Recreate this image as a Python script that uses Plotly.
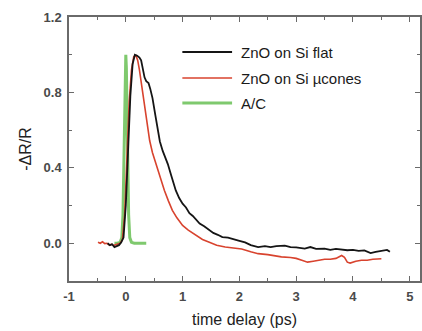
import plotly.graph_objects as go

# ---- data ----
flat_x = [-0.32, -0.28, -0.24, -0.20, -0.16, -0.12, -0.08, -0.04, 0.0, 0.04, 0.08, 0.12, 0.16, 0.20,
          0.24, 0.27, 0.30, 0.33, 0.36, 0.40, 0.43, 0.47, 0.52, 0.56, 0.60, 0.65, 0.70, 0.74, 0.80,
          0.84, 0.88, 0.94, 1.00, 1.06, 1.12, 1.18, 1.23, 1.30, 1.38, 1.46, 1.54, 1.62, 1.70, 1.80,
          1.90, 2.00, 2.10, 2.20, 2.33, 2.45, 2.55, 2.65, 2.80, 2.90, 3.00, 3.15, 3.25, 3.35, 3.50,
          3.60, 3.70, 3.80, 3.90, 4.00, 4.10, 4.20, 4.31, 4.40, 4.50, 4.60, 4.65]
flat_y = [0.0, -0.01, -0.005, -0.02, -0.015, -0.01, 0.005, 0.03, 0.2, 0.5, 0.78, 0.95, 1.0, 0.995,
          0.985, 0.97, 0.93, 0.88, 0.86, 0.85, 0.82, 0.77, 0.68, 0.60, 0.54, 0.49, 0.45, 0.42, 0.36,
          0.32, 0.28, 0.24, 0.21, 0.19, 0.16, 0.145, 0.13, 0.105, 0.09, 0.07, 0.055, 0.045, 0.033, 0.03,
          0.02, 0.013, 0.005, -0.01, -0.02, -0.015, -0.02, -0.015, -0.012, -0.02, -0.022, -0.028, -0.02, -0.03, -0.028,
          -0.035, -0.03, -0.035, -0.037, -0.035, -0.04, -0.038, -0.052, -0.045, -0.04, -0.035, -0.045]

cones_x = [-0.49, -0.45, -0.41, -0.37, -0.33, -0.29, -0.25, -0.22, -0.18, -0.14, -0.10, -0.06, -0.02,
           0.02, 0.06, 0.10, 0.14, 0.18, 0.21, 0.24, 0.27, 0.30, 0.33, 0.37, 0.42, 0.47, 0.53, 0.58,
           0.63, 0.68, 0.75, 0.82, 0.90, 1.00, 1.10, 1.23, 1.35, 1.46, 1.60, 1.75, 1.90, 2.04, 2.20,
           2.33, 2.50, 2.60, 2.74, 2.90, 3.00, 3.10, 3.20, 3.30, 3.40, 3.50, 3.60, 3.70, 3.80, 3.85,
           3.90, 3.95, 4.05, 4.15, 4.25, 4.35, 4.50]
cones_y = [0.005, 0.0, 0.008, -0.002, 0.0, -0.01, -0.005, -0.012, -0.008, -0.005, 0.0, 0.02, 0.15,
           0.45, 0.75, 0.92, 0.99, 0.995, 0.97, 0.92, 0.86, 0.79, 0.72, 0.64, 0.545, 0.48, 0.42, 0.37,
           0.32, 0.28, 0.225, 0.175, 0.135, 0.095, 0.07, 0.042, 0.02, 0.007, -0.01, -0.02, -0.025, -0.03, -0.045,
           -0.055, -0.06, -0.065, -0.072, -0.075, -0.08, -0.09, -0.1, -0.095, -0.09, -0.085, -0.085, -0.08, -0.065, -0.075,
           -0.1, -0.105, -0.095, -0.09, -0.09, -0.085, -0.082]

ac_x = [-0.20, -0.15, -0.10, -0.07, -0.05, -0.03, -0.02, -0.01, 0.0, 0.01, 0.02, 0.03, 0.05, 0.07,
        0.10, 0.15, 0.20, 0.25, 0.30, 0.36]
ac_y = [0.0, 0.0, 0.005, 0.03, 0.15, 0.5, 0.75, 0.93, 1.0, 0.93, 0.75, 0.5, 0.15, 0.03,
        0.005, 0.0, 0.0, 0.0, 0.0, 0.0]

names = ["ZnO on Si flat", "ZnO on Si \u00b5cones", "A/C"]
colors = ["#151515", "#d8432e", "rgba(105,192,85,0.85)"]

x_ticks = [-1, 0, 1, 2, 3, 4, 5]
x_ticklabels = ["-1", "0", "1", "2", "3", "4", "5"]
y_ticks = [0.0, 0.4, 0.8, 1.2]
y_ticklabels = ["0.0", "0.4", "0.8", "1.2"]

fig = go.Figure()
fig.add_trace(go.Scatter(x=ac_x, y=ac_y, mode="lines", name=names[2],
                         line=dict(color=colors[2], width=3)))
fig.add_trace(go.Scatter(x=cones_x, y=cones_y, mode="lines", name=names[1],
                         line=dict(color=colors[1], width=1.6)))
fig.add_trace(go.Scatter(x=flat_x, y=flat_y, mode="lines", name=names[0],
                         line=dict(color=colors[0], width=1.8)))

axis_common = dict(showline=True, linecolor="#6a6a6a", linewidth=1.5, mirror="ticks",
                   ticks="inside", ticklen=5, tickwidth=1.3, tickcolor="#6a6a6a",
                   showgrid=False, zeroline=False, ticklabelstandoff=3,
                   tickfont=dict(family="Liberation Sans", size=13, color="#4a4a4a",
                                 weight="bold"))

fig.update_xaxes(range=[-1, 5.18], tickvals=x_ticks, ticktext=x_ticklabels,
                 minor=dict(dtick=0.5, ticks="inside", ticklen=3, tickcolor="#6a6a6a"),
                 title=dict(text="time delay (ps)", standoff=10,
                            font=dict(family="Liberation Sans", size=16, color="#222")),
                 **axis_common)
fig.update_yaxes(range=[-0.2, 1.2], tickvals=y_ticks, ticktext=y_ticklabels,
                 minor=dict(dtick=0.2, ticks="inside", ticklen=3, tickcolor="#6a6a6a"),
                 title=dict(text="-\u0394R/R", standoff=8,
                            font=dict(family="Liberation Sans", size=16, color="#222")),
                 **axis_common)

# manual legend (line samples + labels)
W, H, L, B = 353, 264, 69, 50
rows_px = [52, 78, 103]
legend_colors = [colors[0], colors[1], colors[2]]
legend_widths = [1.8, 1.6, 3]
for i, name in enumerate(names):
    py = (331 - B - rows_px[i]) / H
    fig.add_shape(type="line", xref="paper", yref="paper",
                  x0=(183 - L) / W, x1=(233 - L) / W, y0=py, y1=py,
                  line=dict(color=legend_colors[i], width=legend_widths[i]))
    fig.add_annotation(xref="paper", yref="paper", x=(240 - L) / W, y=py,
                       text=name, showarrow=False, xanchor="left", yanchor="middle",
                       font=dict(family="Liberation Sans", size=15, color="#1a1a1a"))

fig.update_layout(width=422, height=331, margin=dict(l=L, r=0, t=17, b=B),
                  paper_bgcolor="white", plot_bgcolor="white", showlegend=False)

fig.write_html("out.html")
